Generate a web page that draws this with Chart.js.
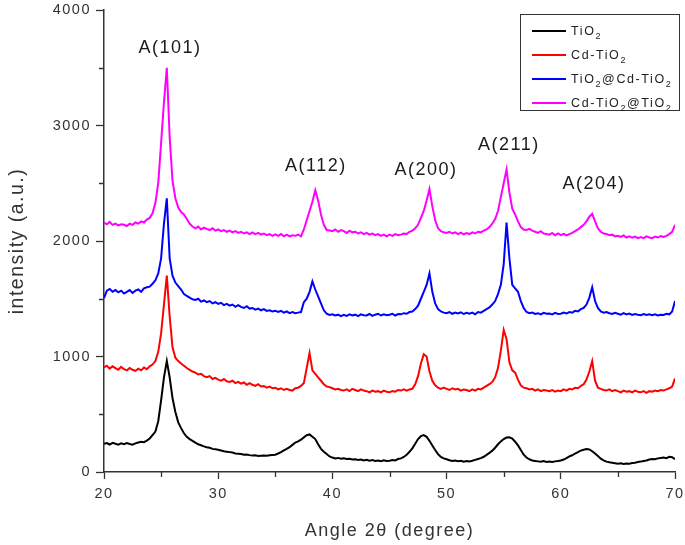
<!DOCTYPE html>
<html>
<head>
<meta charset="utf-8">
<title>XRD patterns</title>
<script src="https://cdn.jsdelivr.net/npm/chart.js@4.4.1/dist/chart.umd.min.js"></script>
<style>
  body { margin: 0; background: #fff; }
  #wrap { position: relative; width: 685px; height: 545px; }
  #legend {
    position: absolute; left: 520px; top: 14px; width: 160px; height: 97px;
    box-sizing: border-box; border: 1px solid #333; background: #fff;
    font-family: "Liberation Sans", Arial, sans-serif; font-size: 12.5px;
    letter-spacing: 1.6px; color: #222;
  }
  .row { position: absolute; left: 0; height: 20px; display: flex; align-items: center; white-space: nowrap; }
  .swatch { display: inline-block; width: 34px; height: 1.5px; margin-left: 11px; margin-right: 5px; }
  sub { font-size: 9px; vertical-align: -4px; line-height: 0; }
</style>
</head>
<body>
<div id="wrap">
  <canvas id="xrd" width="685" height="545"></canvas>
  <div id="legend"></div>
</div>
<script>
// 2theta grid (degrees)
const angles = [
  20, 20.25, 20.5, 20.75, 21, 21.25, 21.5, 21.75, 22, 22.25, 22.5, 22.75,
  23, 23.25, 23.5, 23.75, 24, 24.25, 24.5, 24.75, 25, 25.25, 25.5, 25.75,
  26, 26.25, 26.5, 26.75, 27, 27.25, 27.5, 27.75, 28, 28.25, 28.5, 28.75,
  29, 29.25, 29.5, 29.75, 30, 30.25, 30.5, 30.75, 31, 31.25, 31.5, 31.75,
  32, 32.25, 32.5, 32.75, 33, 33.25, 33.5, 33.75, 34, 34.25, 34.5, 34.75,
  35, 35.25, 35.5, 35.75, 36, 36.25, 36.5, 36.75, 37, 37.25, 37.5, 37.75,
  38, 38.25, 38.5, 38.75, 39, 39.25, 39.5, 39.75, 40, 40.25, 40.5, 40.75,
  41, 41.25, 41.5, 41.75, 42, 42.25, 42.5, 42.75, 43, 43.25, 43.5, 43.75,
  44, 44.25, 44.5, 44.75, 45, 45.25, 45.5, 45.75, 46, 46.25, 46.5, 46.75,
  47, 47.25, 47.5, 47.75, 48, 48.25, 48.5, 48.75, 49, 49.25, 49.5, 49.75,
  50, 50.25, 50.5, 50.75, 51, 51.25, 51.5, 51.75, 52, 52.25, 52.5, 52.75,
  53, 53.25, 53.5, 53.75, 54, 54.25, 54.5, 54.75, 55, 55.25, 55.5, 55.75,
  56, 56.25, 56.5, 56.75, 57, 57.25, 57.5, 57.75, 58, 58.25, 58.5, 58.75,
  59, 59.25, 59.5, 59.75, 60, 60.25, 60.5, 60.75, 61, 61.25, 61.5, 61.75,
  62, 62.25, 62.5, 62.75, 63, 63.25, 63.5, 63.75, 64, 64.25, 64.5, 64.75,
  65, 65.25, 65.5, 65.75, 66, 66.25, 66.5, 66.75, 67, 67.25, 67.5, 67.75,
  68, 68.25, 68.5, 68.75, 69, 69.25, 69.5, 69.75, 70
];

// TiO2
const tio2 = [
  245, 250, 238, 252, 244, 236, 248, 240, 250, 242, 236, 248,
  255, 262, 258, 272, 290, 320, 350, 440, 620, 820, 960, 820,
  640, 520, 430, 380, 335, 305, 285, 270, 255, 240, 232, 222,
  215, 210, 200, 196, 192, 186, 180, 176, 172, 168, 160, 158,
  155, 150, 152, 146, 142, 145, 138, 140, 142, 140, 145, 148,
  150, 160, 172, 188, 200, 215, 235, 255, 265, 280, 300, 318,
  325, 305, 285, 240, 200, 175, 155, 135, 125, 118, 122, 115,
  118, 112, 115, 108, 110, 104, 108, 100, 106, 98, 104, 96,
  100, 94, 102, 96, 98, 104, 100, 112, 118, 130, 150, 175,
  205, 245, 285, 310, 320, 305, 270, 230, 190, 155, 130, 118,
  110, 102, 96, 100, 94, 98, 90, 96, 92, 98, 105, 112,
  120, 132, 148, 165, 185, 210, 240, 265, 285, 298, 300, 290,
  262, 230, 190, 150, 125, 110, 100, 96, 92, 88, 94, 86,
  90, 86, 92, 95, 100, 108, 120, 135, 145, 160, 172, 185,
  192, 198, 195, 180, 160, 138, 115, 100, 90, 84, 80, 76,
  72, 76, 70, 74, 72, 78, 80, 86, 90, 96, 100, 108,
  112, 110, 118, 122, 126, 120, 132, 128, 110
];

// Cd-TiO2
const cdTio2 = [
  905, 920, 895, 915, 900, 885, 910, 890, 880, 900, 885, 875,
  895, 880, 905, 890, 915, 930, 960, 1040, 1200, 1450, 1700, 1350,
  1080, 990, 960, 940, 920, 900, 885, 870, 860, 845, 850, 830,
  820, 830, 805, 815, 800, 790, 805, 785, 780, 790, 770, 780,
  765, 775, 755, 770, 755, 745, 760, 740, 745, 730, 740, 725,
  730, 715, 725, 710, 720, 710, 705, 725, 730, 745, 770, 900,
  1030, 880, 850, 820, 790, 760, 740, 735, 725, 715, 720, 710,
  705, 715, 700, 720, 710, 700, 715, 705, 700, 690, 705, 695,
  700, 690, 705, 695, 690, 700, 695, 710, 705, 715, 705, 715,
  720, 760, 830, 940, 1020, 1000, 870, 790, 750, 730, 720, 730,
  720, 710, 725, 715, 720, 705, 715, 710, 700, 715, 705, 720,
  715, 730, 745, 760, 780, 820, 900, 1050, 1230, 1150, 950, 880,
  860, 800, 750, 730, 725, 715, 720, 705, 715, 700, 710, 705,
  700, 710, 695, 705, 700, 715, 705, 720, 715, 730, 725, 745,
  760, 800, 870, 960, 790, 730, 720, 710, 705, 715, 700, 710,
  700, 690, 705, 695, 700, 690, 705, 695, 690, 700, 685, 700,
  695, 705, 700, 710, 705, 715, 725, 740, 810
];

// TiO2@Cd-TiO2
const tio2AtCd = [
  1505, 1570, 1585, 1560, 1575, 1555, 1570, 1545, 1560, 1575, 1550, 1570,
  1580, 1560, 1590, 1600, 1605, 1630, 1660, 1720, 1850, 2150, 2370, 1850,
  1700, 1640, 1610, 1580, 1540, 1525, 1510, 1495, 1490, 1500, 1475, 1485,
  1470, 1480, 1460, 1470, 1455, 1465, 1445, 1455, 1440, 1450, 1430, 1445,
  1430, 1420, 1435, 1415, 1420, 1405, 1415, 1400, 1410, 1395, 1400, 1390,
  1395, 1385, 1395, 1380, 1390, 1375, 1385, 1375, 1380, 1385, 1470, 1500,
  1560, 1650, 1580, 1520, 1460, 1400, 1370, 1360, 1365, 1355, 1362, 1350,
  1360, 1352, 1365, 1355, 1362, 1350, 1365, 1358, 1355, 1368, 1352, 1362,
  1370, 1355, 1365, 1358, 1362, 1370, 1355, 1368, 1365, 1375, 1370, 1385,
  1390, 1410, 1440, 1500, 1560, 1620, 1720, 1560, 1460, 1410, 1390, 1380,
  1375, 1385, 1370, 1380, 1372, 1382, 1368, 1378, 1370, 1380, 1365, 1385,
  1380, 1395, 1410, 1425, 1450, 1480, 1540, 1620, 1800, 2160, 1850, 1620,
  1590, 1560, 1480, 1420, 1385, 1375, 1380, 1368, 1375, 1365, 1378, 1370,
  1372, 1365, 1378, 1368, 1370, 1380, 1372, 1385, 1380, 1395, 1390, 1410,
  1420, 1450, 1510, 1600, 1480, 1420, 1390, 1380, 1385, 1375, 1368, 1378,
  1370, 1362, 1375, 1365, 1372, 1360, 1368, 1362, 1358, 1368, 1360, 1365,
  1358, 1366, 1355, 1362, 1360, 1370, 1365, 1390, 1480
];

// Cd-TiO2@TiO2
const cdAtTio2 = [
  2160, 2145, 2165, 2140, 2150, 2135, 2145, 2140, 2130, 2150, 2140, 2160,
  2150, 2170, 2160, 2185, 2200, 2240, 2330, 2500, 2850, 3200, 3500, 2900,
  2520, 2370, 2290, 2250, 2230, 2190, 2150, 2125, 2110, 2125, 2100, 2115,
  2105, 2095, 2110, 2090, 2100, 2085, 2095, 2080, 2090, 2075, 2085, 2070,
  2080, 2065, 2075, 2060, 2075, 2060, 2070, 2055, 2065, 2050, 2060, 2045,
  2058, 2045, 2060, 2040, 2055, 2040, 2050, 2045, 2055, 2040, 2100, 2180,
  2260, 2340, 2440, 2350, 2230, 2140, 2095, 2090, 2085, 2100, 2080, 2095,
  2085, 2070, 2090, 2075, 2080, 2065, 2075, 2060, 2070, 2055, 2065, 2050,
  2060, 2045, 2055, 2040, 2055, 2045, 2060, 2050, 2055, 2065, 2060, 2080,
  2090, 2110, 2140, 2200, 2260, 2350, 2450, 2300, 2180, 2110, 2085, 2075,
  2070, 2080, 2065, 2075, 2060, 2072, 2058, 2068, 2060, 2075, 2065, 2080,
  2075, 2090, 2100, 2120, 2150, 2190, 2260, 2380, 2500, 2620, 2420, 2280,
  2230, 2170, 2120, 2100, 2095, 2105, 2090, 2080, 2070, 2085, 2065, 2060,
  2055, 2070, 2050, 2065, 2050, 2062, 2048, 2060, 2070, 2085, 2100, 2120,
  2140, 2170, 2210, 2235, 2170, 2110, 2080, 2065, 2060, 2050, 2055, 2040,
  2045, 2035, 2048, 2030, 2040, 2028, 2038, 2025, 2035, 2025, 2040, 2030,
  2025, 2038, 2030, 2042, 2035, 2045, 2060, 2080, 2140
];

const seriesNames = ['TiO2', 'Cd-TiO2', 'TiO2@Cd-TiO2', 'Cd-TiO2@TiO2'];
const seriesValues = [tio2, cdTio2, tio2AtCd, cdAtTio2];
const seriesColors = ['#000000', '#ff0000', '#0000ff', '#ff00ff'];

// anatase reflections, label anchor (angle, intensity)
const peakNames = ['A(101)', 'A(112)', 'A(200)', 'A(211)', 'A(204)'];
const peakAngles = [25.78, 38.56, 48.2, 55.46, 62.9];
const peakLevels = [3670, 2650, 2615, 2831, 2493];

const xMinorTicks = [25, 35, 45, 55, 65];
const yMinorTicks = [500, 1500, 2500, 3500];

const fontFamily = '"Liberation Sans", Arial, sans-serif';
const axisColor = '#333';

const spacing = {
    id: 'spacing',
    beforeDraw(chart) {
        chart.ctx.letterSpacing = '1.5px';
    }
};

const minorTicks = {
    id: 'minorTicks',
    afterDraw(chart) {
        const {ctx, scales: {x, y}} = chart;
        ctx.save();
        ctx.strokeStyle = axisColor;
        ctx.lineWidth = 1.3;
        ctx.beginPath();
        xMinorTicks.forEach(v => {
            const px = Math.round(x.getPixelForValue(v)) + 0.5;
            ctx.moveTo(px, x.top);
            ctx.lineTo(px, x.top + 5);
        });
        yMinorTicks.forEach(v => {
            const py = Math.round(y.getPixelForValue(v)) + 0.5;
            ctx.moveTo(y.right, py);
            ctx.lineTo(y.right - 5, py);
        });
        ctx.stroke();
        ctx.restore();
    }
};

const peakText = {
    id: 'peakText',
    afterDatasetsDraw(chart) {
        const {ctx, scales: {x, y}} = chart;
        ctx.save();
        ctx.font = '18px ' + fontFamily;
        ctx.fillStyle = '#1a1a1a';
        ctx.textAlign = 'center';
        ctx.textBaseline = 'middle';
        ctx.letterSpacing = '1.5px';
        peakNames.forEach((name, i) => {
            ctx.fillText(name, x.getPixelForValue(peakAngles[i]), y.getPixelForValue(peakLevels[i]));
        });
        ctx.restore();
    }
};

const chart = new Chart(document.getElementById('xrd'), {
    type: 'line',
    data: {
        datasets: seriesValues.map((vals, i) => ({
            label: seriesNames[i],
            data: angles.map((a, k) => ({x: a, y: vals[k]})),
            borderColor: seriesColors[i],
            backgroundColor: seriesColors[i],
            borderWidth: 2,
            pointRadius: 0,
            tension: 0,
            fill: false
        }))
    },
    options: {
        responsive: false,
        animation: false,
        devicePixelRatio: 1,
        layout: { padding: { left: 0, right: 10, top: 10, bottom: 0 } },
        plugins: {
            legend: { display: false },
            tooltip: { enabled: false }
        },
        scales: {
            x: {
                type: 'linear',
                min: 20,
                max: 70,
                afterFit(scale) {
                    scale.height = 73;
                    scale.paddingLeft = 0;
                    scale.paddingRight = 0;
                },
                ticks: {
                    stepSize: 10,
                    maxRotation: 0,
                    padding: 6,
                    color: axisColor,
                    font: { family: fontFamily, size: 14.5 },
                    callback: v => String(v)
                },
                grid: {
                    drawOnChartArea: false,
                    drawTicks: true,
                    tickLength: 7,
                    tickColor: axisColor,
                    tickWidth: 1.3
                },
                border: { color: axisColor, width: 1.5 },
                title: {
                    display: true,
                    text: 'Angle 2θ (degree)',
                    color: axisColor,
                    font: { family: fontFamily, size: 18 },
                    padding: { top: 0, bottom: 3 }
                }
            },
            y: {
                min: 0,
                max: 4000,
                afterFit(scale) {
                    scale.width = 104;
                    scale.paddingTop = 0;
                    scale.paddingBottom = 0;
                },
                ticks: {
                    stepSize: 1000,
                    padding: 5,
                    color: axisColor,
                    font: { family: fontFamily, size: 14.5 },
                    callback: v => String(v)
                },
                grid: {
                    drawOnChartArea: false,
                    drawTicks: true,
                    tickLength: 8,
                    tickColor: axisColor,
                    tickWidth: 1.3
                },
                border: { color: axisColor, width: 1.5 },
                title: {
                    display: true,
                    text: 'intensity (a.u.)',
                    color: axisColor,
                    font: { family: fontFamily, size: 19.5 },
                    padding: { top: 6, bottom: 0 }
                }
            }
        }
    },
    plugins: [spacing, minorTicks, peakText]
});

// legend with subscripts, built from the datasets
const legendBox = document.getElementById('legend');
chart.data.datasets.forEach((ds, i) => {
    const row = document.createElement('div');
    row.className = 'row';
    row.style.top = (6 + i * 24) + 'px';
    const sw = document.createElement('span');
    sw.className = 'swatch';
    sw.style.background = ds.borderColor;
    const txt = document.createElement('span');
    txt.innerHTML = ds.label.replace(/2/g, '<sub>2</sub>');
    row.appendChild(sw);
    row.appendChild(txt);
    legendBox.appendChild(row);
});
</script>
</body>
</html>
